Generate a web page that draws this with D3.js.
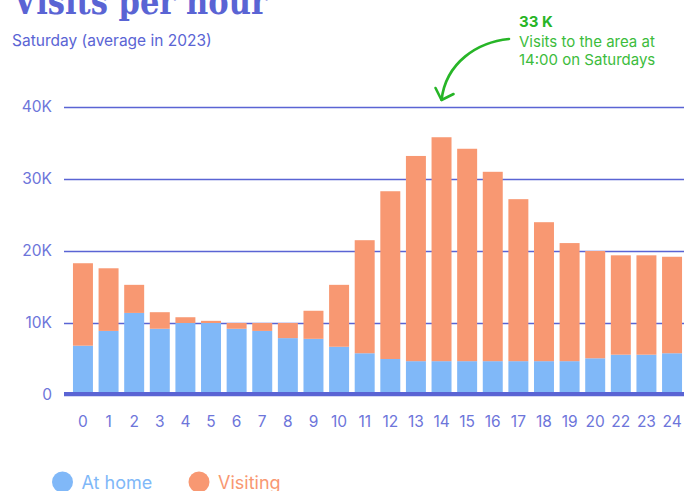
<!DOCTYPE html>
<html>
<head>
<meta charset="utf-8">
<script src="https://cdn.jsdelivr.net/npm/d3@7"></script>
<style>
  body { margin: 0; background: #fff; }
  text { font-family: Inter, 'Noto Sans', sans-serif; }
</style>
</head>
<body>
<div class="vis-container"></div>
<script>
// Hours shown on the x axis (21 is not in the source chart)
const hours = ['0', '1', '2', '3', '4', '5', '6', '7', '8', '9', '10', '11', '12',
  '13', '14', '15', '16', '17', '18', '19', '20', '22', '23', '24'];
const atHome = [6850, 8900, 11400, 9200, 10000, 10000, 9200, 8900, 7900, 7800, 6700, 5800,
  5000, 4700, 4700, 4700, 4700, 4700, 4700, 4700, 5100, 5600, 5600, 5800];
const visiting = [11450, 8700, 3900, 2300, 800, 300, 800, 1100, 2100, 3900, 8600, 15700,
  23300, 28500, 31100, 29500, 26300, 22500, 19300, 16400, 14900, 13800, 13800, 13400];
const yTicks = [0, 10000, 20000, 30000, 40000];
const seriesNames = ['At home', 'Visiting'];

const width = 684;
const height = 491;
const purple = '#5a64d4';
const tickColor = '#6d75da';
const colors = ['#80b8f8', '#f89872'];
const green = '#27b527';

const svg = d3
  .select('.vis-container')
  .append('svg')
  .attr('width', width)
  .attr('height', height);

const data = hours.map((h, i) => ({ hour: h, home: atHome[i], visiting: visiting[i] }));
const stacked = d3.stack().keys(['home', 'visiting'])(data);

const xScale = d3
  .scaleBand()
  .domain(hours)
  .range([64, 691])
  .paddingInner(0.22)
  .paddingOuter(0.35);
const yScale = d3.scaleLinear().domain([0, 40000]).range([395, 107]);

// Gridlines + y labels
const yAxis = d3
  .axisLeft(yScale)
  .tickValues(yTicks)
  .tickSize(0)
  .tickPadding(12)
  .tickFormat((d) => (d === 0 ? '0' : d / 1000 + 'K'));
svg
  .append('g')
  .attr('transform', 'translate(64,0)')
  .call(yAxis)
  .call((g) => g.select('.domain').remove())
  .call((g) =>
    g
      .selectAll('.tick line')
      .clone()
      .attr('x2', width - 64)
      .attr('stroke', purple)
      .attr('stroke-width', 1.3)
  )
  .call((g) =>
    g
      .selectAll('.tick text')
      .attr('fill', tickColor)
      .style('font-size', '15.5px')
  );

// Bars
svg
  .append('g')
  .selectAll('g')
  .data(stacked)
  .join('g')
  .attr('fill', (d, i) => colors[i])
  .selectAll('rect')
  .data((d) => d)
  .join('rect')
  .attr('x', (d) => xScale(d.data.hour))
  .attr('y', (d) => yScale(d[1]))
  .attr('width', xScale.bandwidth())
  .attr('height', (d) => yScale(d[0]) - yScale(d[1]));

// Thick baseline
svg
  .append('rect')
  .attr('x', 64)
  .attr('y', yScale(0) - 3)
  .attr('width', width - 64)
  .attr('height', 4)
  .attr('fill', purple);

// X labels
const xAxis = d3.axisBottom(xScale).tickSize(0).tickPadding(21);
svg
  .append('g')
  .attr('transform', `translate(0,${yScale(0)})`)
  .call(xAxis)
  .call((g) => g.select('.domain').remove())
  .call((g) =>
    g
      .selectAll('.tick text')
      .attr('fill', tickColor)
      .style('font-size', '15.5px')
  );

// Title and subtitle
svg
  .append('text')
  .attr('x', 13)
  .attr('y', 14)
  .style('font-family', "'DejaVu Serif', serif")
  .style('font-weight', 'bold')
  .style('font-size', '35px')
  .attr('textLength', 254)
  .attr('lengthAdjust', 'spacingAndGlyphs')
  .attr('fill', purple)
  .text('Visits per hour');

svg
  .append('text')
  .attr('x', 12)
  .attr('y', 46)
  .style('font-size', '15.5px')
  .attr('fill', purple)
  .text('Saturday (average in 2023)');

// Annotation
const note = svg.append('g').attr('fill', '#3cbc3c').style('font-size', '15px');
note
  .append('text')
  .attr('x', 519)
  .attr('y', 27)
  .style('font-weight', 'bold')
  .attr('fill', green)
  .text('33 K');
note.append('text').attr('x', 519).attr('y', 47).text('Visits to the area at');
note.append('text').attr('x', 519).attr('y', 65).text('14:00 on Saturdays');

const tipX = xScale('14') + xScale.bandwidth() / 2;
const tipY = 100;
svg
  .append('path')
  .attr('d', `M509,39 C478,42 446,62 ${tipX},${tipY}`)
  .attr('fill', 'none')
  .attr('stroke', green)
  .attr('stroke-width', 2.6)
  .attr('stroke-linecap', 'round');
svg
  .append('path')
  .attr('d', `M${tipX - 6},${tipY - 12} L${tipX},${tipY} L${tipX + 12},${tipY - 6}`)
  .attr('fill', 'none')
  .attr('stroke', green)
  .attr('stroke-width', 2.6)
  .attr('stroke-linecap', 'round')
  .attr('stroke-linejoin', 'round');

// Legend
const legend = svg
  .append('g')
  .selectAll('g')
  .data(seriesNames)
  .join('g')
  .attr('transform', (d, i) => `translate(${i === 0 ? 62.5 : 199},482)`);
legend
  .append('circle')
  .attr('r', 10.5)
  .attr('fill', (d, i) => colors[i]);
legend
  .append('text')
  .attr('x', 19)
  .attr('y', 7)
  .style('font-size', '18px')
  .attr('fill', (d, i) => colors[i])
  .text((d) => d);
</script>
</body>
</html>
